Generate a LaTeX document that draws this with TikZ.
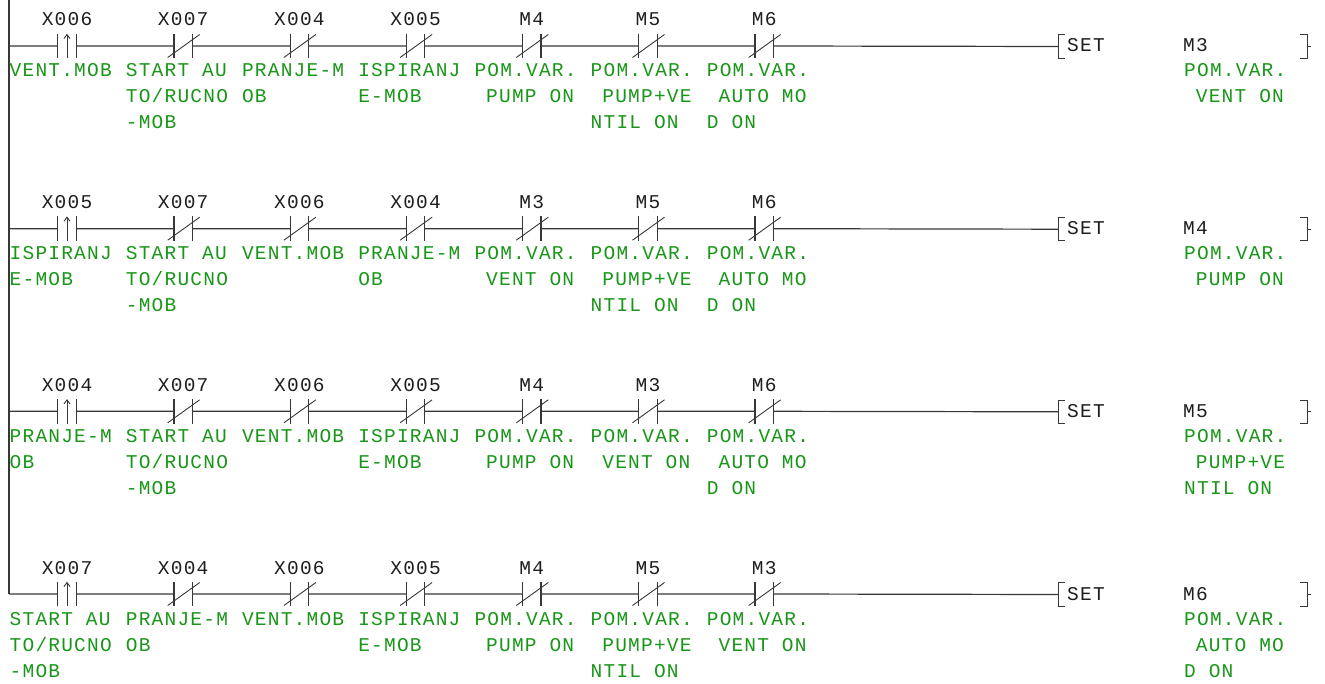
\documentclass[tikz,border=0pt]{standalone}
\usepackage{fontspec}
\newfontfamily\ladfont{Liberation Mono}[LetterSpace=6.2]
\usetikzlibrary{arrows.meta}
\definecolor{cgreen}{RGB}{25,150,25}
\definecolor{wirec}{RGB}{55,55,55}
\definecolor{labc}{RGB}{30,30,30}
\newcommand\ind{\hphantom{X}}
\tikzset{
 wire/.style={draw=wirec, line width=1.2pt},
 thinw/.style={draw=wirec, line width=0.9pt},
 ctc/.style={rectangle, minimum width=18pt, minimum height=24pt, inner sep=0pt, draw=none},
 lbl/.style={font=\ladfont\fontsize{19.5}{26}\selectfont, text=labc, inner sep=0pt, anchor=base},
 cmtx/.style={font=\ladfont\fontsize{19.5}{26}\selectfont, text=cgreen, inner sep=0pt, anchor=base west},
 outbox/.style={rectangle, minimum width=248pt, minimum height=23pt, inner sep=0pt, draw=none},
}
\newcommand\ctR[4]{%
 \node[ctc] (#1) at (#2,#3) {};
 \node[lbl] (#1l) at (#2,#3-20) {#4};
 \draw[wire] (#1.north west) -- (#1.south west) (#1.north east) -- (#1.south east);
 \draw[thinw,-{Straight Barb[length=4pt,width=6pt]}] (#1.south) -- (#1.north);}
\newcommand\ctN[4]{%
 \node[ctc] (#1) at (#2,#3) {};
 \node[lbl] (#1l) at (#2,#3-20) {#4};
 \draw[wire] (#1.north west) -- (#1.south west) (#1.north east) -- (#1.south east);
 \draw[thinw] ([shift={(-15.5,11.5)}]#1.center) -- ([shift={(16.5,-11.5)}]#1.center);}
\newcommand\cmt[4]{%
 \foreach \t [count=\i] in {#4} {\node[cmtx] (#1t\i) at (#2,{#3+5+26*\i}) {\t};}}
\newcommand\outp[4]{% name y operand comments
 \node[outbox] (#1) at (1183,#2+0.5) {};
 \draw[wire] ([shift={(6,0)}]#1.north west) -- (#1.north west) -- (#1.south west) -- ([shift={(6,0)}]#1.south west);
 \draw[wire] ([shift={(-7,0)}]#1.north east) -- (#1.north east) -- (#1.south east) -- ([shift={(-7,0)}]#1.south east);
 \draw[wire] (#1.east) -- ++(4,0);
 \node[lbl,anchor=base west] (#1set) at (1067,#2+6) {SET};
 \node[lbl,anchor=base west] (#1m) at (1183,#2+6) {#3};
 \cmt{#1c}{1184}{#2}{#4}}
\begin{document}
\begin{tikzpicture}[x=1pt,y=-1pt]
\useasboundingbox (0,0) rectangle (1325,684);
\coordinate (top) at (9,0);
\coordinate (r1) at (9,46);
\coordinate (r2) at (9,228.7);
\coordinate (r3) at (9,411.3);
\coordinate (r4) at (9,594);
\draw[wire] (top) -- (r4);
% ---------------- rung 1
\ctR{a1}{67}{46}{X006}
\ctN{a2}{183.2}{46}{X007}
\ctN{a3}{299.4}{46}{X004}
\ctN{a4}{415.6}{46}{X005}
\ctN{a5}{531.8}{46}{M4}
\ctN{a6}{648}{46}{M5}
\ctN{a7}{764.2}{46}{M6}
\outp{ao}{46}{M3}{POM.VAR.,\ind VENT ON}
\draw[wire] (r1) -- (a1.west) (a1.east) -- (a2.west) (a2.east) -- (a3.west) (a3.east) -- (a4.west)
 (a4.east) -- (a5.west) (a5.east) -- (a6.west) (a6.east) -- (a7.west) (a7.east) -- (ao.west);
\cmt{a1}{9.5}{46}{VENT.MOB}
\cmt{a2}{125.7}{46}{START AU,TO/RUCNO,-MOB}
\cmt{a3}{241.9}{46}{PRANJE-M,OB}
\cmt{a4}{358.1}{46}{ISPIRANJ,E-MOB}
\cmt{a5}{474.3}{46}{POM.VAR.,\ind PUMP ON}
\cmt{a6}{590.5}{46}{POM.VAR.,\ind PUMP+VE,NTIL ON}
\cmt{a7}{706.7}{46}{POM.VAR.,\ind AUTO MO,D ON}
% ---------------- rung 2
\ctR{b1}{67}{228.7}{X005}
\ctN{b2}{183.2}{228.7}{X007}
\ctN{b3}{299.4}{228.7}{X006}
\ctN{b4}{415.6}{228.7}{X004}
\ctN{b5}{531.8}{228.7}{M3}
\ctN{b6}{648}{228.7}{M5}
\ctN{b7}{764.2}{228.7}{M6}
\outp{bo}{228.7}{M4}{POM.VAR.,\ind PUMP ON}
\draw[wire] (r2) -- (b1.west) (b1.east) -- (b2.west) (b2.east) -- (b3.west) (b3.east) -- (b4.west)
 (b4.east) -- (b5.west) (b5.east) -- (b6.west) (b6.east) -- (b7.west) (b7.east) -- (bo.west);
\cmt{b1}{9.5}{228.7}{ISPIRANJ,E-MOB}
\cmt{b2}{125.7}{228.7}{START AU,TO/RUCNO,-MOB}
\cmt{b3}{241.9}{228.7}{VENT.MOB}
\cmt{b4}{358.1}{228.7}{PRANJE-M,OB}
\cmt{b5}{474.3}{228.7}{POM.VAR.,\ind VENT ON}
\cmt{b6}{590.5}{228.7}{POM.VAR.,\ind PUMP+VE,NTIL ON}
\cmt{b7}{706.7}{228.7}{POM.VAR.,\ind AUTO MO,D ON}
% ---------------- rung 3
\ctR{c1}{67}{411.3}{X004}
\ctN{c2}{183.2}{411.3}{X007}
\ctN{c3}{299.4}{411.3}{X006}
\ctN{c4}{415.6}{411.3}{X005}
\ctN{c5}{531.8}{411.3}{M4}
\ctN{c6}{648}{411.3}{M3}
\ctN{c7}{764.2}{411.3}{M6}
\outp{co}{411.3}{M5}{POM.VAR.,\ind PUMP+VE,NTIL ON}
\draw[wire] (r3) -- (c1.west) (c1.east) -- (c2.west) (c2.east) -- (c3.west) (c3.east) -- (c4.west)
 (c4.east) -- (c5.west) (c5.east) -- (c6.west) (c6.east) -- (c7.west) (c7.east) -- (co.west);
\cmt{c1}{9.5}{411.3}{PRANJE-M,OB}
\cmt{c2}{125.7}{411.3}{START AU,TO/RUCNO,-MOB}
\cmt{c3}{241.9}{411.3}{VENT.MOB}
\cmt{c4}{358.1}{411.3}{ISPIRANJ,E-MOB}
\cmt{c5}{474.3}{411.3}{POM.VAR.,\ind PUMP ON}
\cmt{c6}{590.5}{411.3}{POM.VAR.,\ind VENT ON}
\cmt{c7}{706.7}{411.3}{POM.VAR.,\ind AUTO MO,D ON}
% ---------------- rung 4
\ctR{d1}{67}{594}{X007}
\ctN{d2}{183.2}{594}{X004}
\ctN{d3}{299.4}{594}{X006}
\ctN{d4}{415.6}{594}{X005}
\ctN{d5}{531.8}{594}{M4}
\ctN{d6}{648}{594}{M5}
\ctN{d7}{764.2}{594}{M3}
\outp{do}{594}{M6}{POM.VAR.,\ind AUTO MO,D ON}
\draw[wire] (r4) -- (d1.west) (d1.east) -- (d2.west) (d2.east) -- (d3.west) (d3.east) -- (d4.west)
 (d4.east) -- (d5.west) (d5.east) -- (d6.west) (d6.east) -- (d7.west) (d7.east) -- (do.west);
\cmt{d1}{9.5}{594}{START AU,TO/RUCNO,-MOB}
\cmt{d2}{125.7}{594}{PRANJE-M,OB}
\cmt{d3}{241.9}{594}{VENT.MOB}
\cmt{d4}{358.1}{594}{ISPIRANJ,E-MOB}
\cmt{d5}{474.3}{594}{POM.VAR.,\ind PUMP ON}
\cmt{d6}{590.5}{594}{POM.VAR.,\ind PUMP+VE,NTIL ON}
\cmt{d7}{706.7}{594}{POM.VAR.,\ind VENT ON}
\end{tikzpicture}
\end{document}
